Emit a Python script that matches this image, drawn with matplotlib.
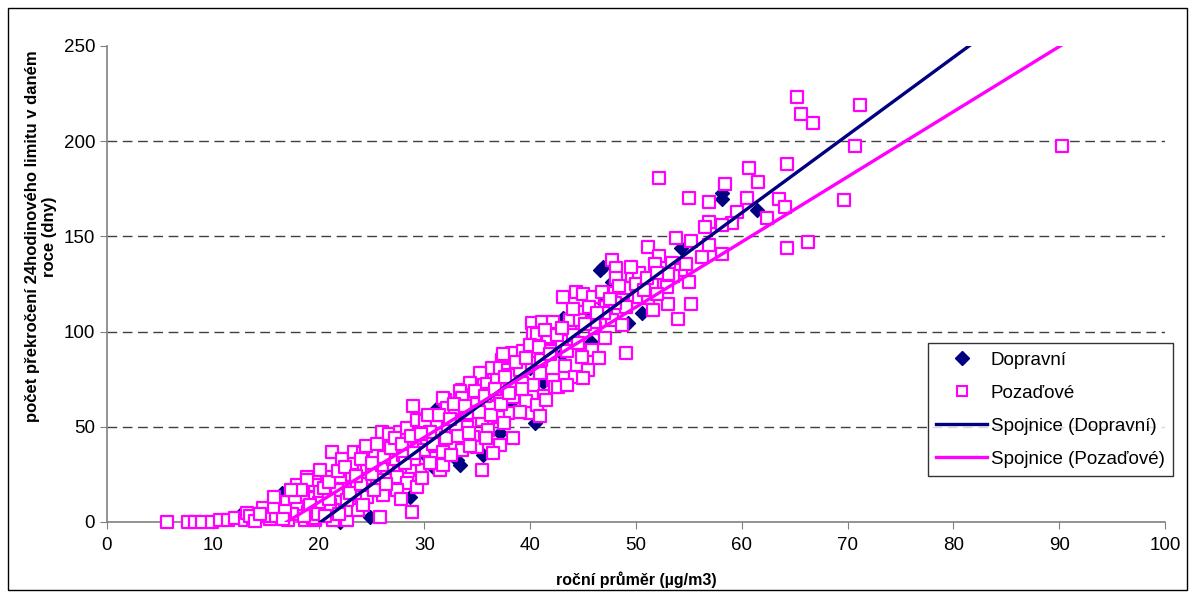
import numpy as np
import matplotlib
matplotlib.use("Agg")
from matplotlib import pyplot as plt
from matplotlib.patches import Rectangle
from matplotlib.lines import Line2D

plt.rcParams['font.family'] = ['Liberation Sans', 'DejaVu Sans']

# Dopravni stations (x = annual mean, y = days over 24h limit)
dopravni = [
    (12.8, 4.7), (16.5, 15.2), (22.0, 0), (24.9, 2.6), (28.6, 13.1), (30.8, 28.9),
    (29.3, 49.9), (31.2, 59.9), (33.1, 32.6), (33.4, 29.9), (35.5, 35.2), (31.5, 44.6),
    (29.3, 55.1), (37.1, 46.7), (40.5, 52.0), (38.1, 61.4), (37.8, 75.6), (39.0, 76.2),
    (40.0, 80.9), (41.2, 73.5), (40.3, 90.3), (41.6, 98.2), (42.8, 98.2), (43.1, 107.1),
    (45.7, 94.5), (45.6, 109.2), (46.6, 117.1), (47.7, 126.1), (49.2, 104.5), (50.6, 109.8),
    (46.6, 132.4), (46.9, 133.9), (54.3, 143.9), (58.1, 172.8), (58.1, 169.6), (61.4, 163.9),
    (30.1, 35.2), (27.0, 40.0), (34.0, 55.0), (36.0, 65.0), (43.0, 88.0), (44.0, 100.0),
]

# Pozadove stations
pozadove = [
    (5.7, 0), (7.7, 0), (8.3, 0), (9.0, 0), (9.9, 0), (10.7, 1), (11.4, 1), (12.1, 2),
    (13.0, 1), (13.8, 2), (13.2, 4.7), (14.7, 7.4), (15.4, 1.6), (16.2, 5.3), (16.1, 10),
    (17.0, 10.5), (18.0, 7.9), (17.1, 1), (18.7, 1), (19.7, 1), (18.9, 23.6), (18.0, 19.4),
    (18.5, 14.2), (19.7, 12.6), (19.7, 19.4), (20.8, 23.6), (21.3, 36.8), (22.7, 24.7),
    (23.2, 31.0), (22.2, 18.4), (23.0, 7.9), (21.4, 6.3), (20.4, 7.9), (22.7, 1),
    (22.2, 33.1), (23.3, 36.8), (24.2, 36.2), (25.3, 36.2), (26.0, 47.3), (26.7, 46.2),
    (27.7, 47.3), (28.4, 49.4), (29.3, 53.6), (30.2, 49.9), (31.3, 48.3), (32.2, 46.7),
    (26.5, 36.8), (27.4, 35.2), (28.4, 38.9), (29.3, 40.4), (30.2, 43.1), (30.8, 34.1),
    (31.5, 27.3), (29.6, 27.3), (28.6, 28.9), (27.7, 28.9), (26.5, 28.4), (24.6, 28.9),
    (22.0, 23.6), (20.1, 27.3), (18.9, 22.1), (20.1, 15.8), (21.7, 16.8), (23.6, 19.4),
    (25.5, 22.1), (27.4, 23.6), (28.4, 20.5), (29.3, 18.4), (22.8, 6.3), (23.7, 6.3),
    (25.8, 2.6), (28.8, 5.3), (19.5, 2.1), (21.4, 1.0), (27.4, 16.8), (26.1, 14.2),
    (24.6, 13.1), (22.7, 11.6), (21.1, 8.9), (28.9, 60.9), (30.1, 53.0), (31.9, 64.1),
    (33.6, 69.3), (34.5, 73.0), (35.4, 78.3), (36.4, 80.9), (37.3, 85.1), (38.3, 88.8),
    (40.2, 104.5), (41.1, 105.0), (40.3, 99.3), (40.5, 90.3), (40.3, 72.0), (40.0, 57.2),
    (38.4, 44.1), (37.1, 40.4), (35.4, 27.3), (36.5, 36.2),
    (42.2, 105.0), (40.6, 98.7), (41.6, 96.1), (37.4, 88.2), (39.3, 89.8), (40.3, 88.8),
    (35.3, 78.3), (37.1, 80.9), (37.9, 79.8), (39.0, 83.5), (40.0, 83.5), (40.9, 78.3),
    (42.2, 74.6), (43.3, 81.9), (34.3, 73.0), (35.9, 72.5), (36.9, 74.6), (38.3, 72.5),
    (39.2, 73.0), (41.3, 66.2), (42.3, 70.9), (33.4, 68.8), (34.6, 66.7), (31.8, 65.1),
    (33.6, 65.1), (38.4, 65.7), (39.6, 63.6), (40.6, 61.4), (32.1, 59.9), (32.9, 59.9),
    (36.2, 60.4), (37.9, 57.2), (40.9, 55.7), (31.2, 52.5), (33.8, 54.6), (35.4, 53.6),
    (37.0, 55.1), (36.0, 48.3), (34.0, 49.9), (32.2, 49.9), (32.7, 41.5), (34.6, 44.6),
    (35.0, 39.4), (33.6, 37.8), (30.5, 47.3),
    (52.2, 180.7), (53.8, 149.2), (51.1, 144.4), (52.2, 139.7), (47.7, 137.6), (48.1, 133.4),
    (48.1, 128.2), (49.6, 129.2), (50.3, 130.8), (51.8, 135.5), (53.4, 136.0), (54.3, 132.4),
    (53.5, 129.2), (56.2, 139.2), (55.0, 126.1), (52.6, 124.5), (48.0, 120.3), (48.8, 120.3),
    (44.3, 120.8), (45.0, 119.7), (45.9, 118.2), (43.1, 118.2), (47.2, 112.9), (49.1, 112.9),
    (50.3, 118.2), (51.1, 117.6), (52.9, 123.4), (53.0, 114.5), (55.2, 114.5), (51.6, 111.3),
    (54.0, 106.6), (44.6, 110.3), (43.8, 106.1), (44.7, 106.1), (47.7, 106.1), (48.7, 103.5),
    (46.1, 101.9), (43.8, 99.8), (47.1, 96.6), (41.7, 97.2), (45.8, 90.3), (49.1, 88.8),
    (44.9, 86.7), (42.6, 70.9), (44.2, 76.2), (45.5, 79.8), (45.0, 75.6),
    (13.5, 3), (15.0, 3), (16.0, 3), (17.5, 4), (19.0, 5), (20.0, 10), (21.0, 12),
    (23.0, 15), (24.0, 20), (25.0, 25), (26.0, 30), (27.0, 33), (28.0, 35), (29.0, 33),
    (30.0, 38), (31.0, 40), (32.0, 44), (33.0, 50), (34.0, 57), (35.0, 62), (36.0, 67),
    (37.0, 70), (38.0, 77), (39.0, 80), (41.0, 85), (42.0, 90), (43.0, 95), (44.0, 98),
    (46.0, 105), (47.0, 110), (48.0, 115), (49.0, 123), (50.0, 125), (51.0, 128),
    (52.0, 120), (53.0, 130),
    (14.0, 0.5), (14.5, 4), (15.8, 8), (16.8, 6), (17.8, 13), (18.3, 17), (19.2, 9),
    (19.9, 4), (20.5, 18), (21.0, 21), (21.8, 27), (22.5, 29), (23.5, 24), (24.0, 33),
    (24.5, 40), (25.0, 31), (25.5, 41), (26.2, 34), (26.8, 39), (27.2, 44), (27.9, 41),
    (28.2, 31), (28.7, 45), (29.0, 36), (29.7, 46), (30.3, 56), (30.8, 41), (31.4, 56),
    (31.8, 37), (32.4, 54), (32.8, 62), (33.2, 45), (33.8, 61), (34.2, 47), (34.8, 69),
    (35.2, 58), (35.7, 66), (36.3, 56), (36.7, 70), (37.2, 62), (37.6, 76), (38.0, 68),
    (38.7, 84), (39.2, 70), (39.6, 86), (40.0, 93), (40.8, 92), (41.4, 101), (41.9, 88),
    (42.5, 98), (43.0, 102), (43.5, 90), (44.0, 112), (44.5, 94), (45.2, 104), (45.6, 113),
    (46.3, 110), (46.8, 121), (47.5, 117), (48.4, 124), (49.5, 134), (50.8, 122),
    (52.0, 131), (16.6, 1.5), (15.8, 13), (17.4, 17), (18.6, 3), (20.6, 3), (21.9, 4),
    (24.2, 9), (25.2, 17), (26.4, 20), (27.8, 12), (29.8, 23), (30.5, 31), (31.8, 30),
    (32.5, 35), (34.3, 40), (35.8, 44), (37.5, 52), (39.0, 58), (41.5, 64), (43.5, 72),
    (46.5, 86),
    (65.2, 223.2), (65.6, 214.3), (66.7, 209.6), (71.2, 219.0), (70.7, 197.5), (90.3, 197.5),
    (60.7, 185.9), (64.3, 188.0), (61.5, 178.6), (58.4, 177.5), (55.0, 170.2), (56.9, 168.1),
    (60.5, 170.2), (63.5, 169.6), (64.1, 165.4), (62.4, 159.7), (59.5, 162.8), (59.1, 157.0),
    (58.1, 156.0), (56.9, 157.6), (56.5, 154.9), (69.7, 169.1), (66.3, 147.1), (64.3, 143.9),
    (56.9, 145.5), (55.2, 147.6), (58.1, 140.8), (54.7, 135.5),
]

# linear trendlines (slope, intercept) as shown in the chart
trend_dopravni = (4.08, -82.4)
trend_pozadove = (3.42, -58.1)

dop_x, dop_y = np.array(dopravni).T
poz_x, poz_y = np.array(pozadove).T

fig = plt.figure(figsize=(11.9, 5.92), dpi=100)
ax = fig.add_axes([107/1190, 1-522/592, (1165-107)/1190, (522-46)/592])

#outer chart border
fig.patches.append(Rectangle((8/1190, 2/592), 1179/1190, 582/592, transform=fig.transFigure,
                             fill=False, edgecolor='black', linewidth=1))

navy = '#000080'
pink = '#FF00FF'

ax.scatter(dop_x, dop_y, marker='D', s=50, color=navy, zorder=3, clip_on=False)
ax.scatter(poz_x, poz_y, marker='s', s=66, facecolor='white', edgecolor=pink,
           linewidth=1.6, zorder=4, clip_on=False)

xs = np.array([0, 100])
ax.plot(xs, trend_dopravni[0]*xs + trend_dopravni[1], color=navy, lw=2.4, zorder=5)
xs2 = np.array([0, poz_x.max()])
ax.plot(xs2, trend_pozadove[0]*xs2 + trend_pozadove[1], color=pink, lw=2.4, zorder=5)

ax.set_xlim(0, 100)
ax.set_ylim(0, 250)
ax.set_xticks(np.arange(0, 101, 10))
ax.set_yticks(np.arange(0, 251, 50))
for yv in [50, 100, 150, 200]:
    ax.axhline(yv, color='#404040', lw=1, dashes=(7, 4), zorder=1)

for s in ['top', 'right']:
    ax.spines[s].set_visible(False)
for s in ['left', 'bottom']:
    ax.spines[s].set_color('#808080')
    ax.spines[s].set_linewidth(1.2)
ax.tick_params(axis='both', direction='out', length=5, color='#808080', labelsize=13.5)
ax.tick_params(axis='x', pad=6)

ax.set_xlabel('roční průměr (µg/m3)', fontsize=11.5, fontweight='bold', labelpad=12)
ax.set_ylabel('počet překročení 24hodinového limitu v daném\nroce (dny)', fontsize=12,
              fontweight='bold', linespacing=1.15)
ax.yaxis.set_label_coords(-0.047, 0.60)

handles = [
    Line2D([], [], marker='D', color=navy, ls='none', markersize=7),
    Line2D([], [], marker='s', markerfacecolor='white', markeredgecolor=pink, ls='none',
           markersize=7, markeredgewidth=1.5),
    Line2D([], [], color=navy, lw=2.4),
    Line2D([], [], color=pink, lw=2.4),
]
labels = ['Dopravní', 'Pozaďové', 'Spojnice (Dopravní)', 'Spojnice (Pozaďové)']
leg = fig.legend(handles, labels, loc='upper left', bbox_to_anchor=(928/1190, 1-343/592),
                 fontsize=13.5, frameon=True, fancybox=False, borderaxespad=0,
                 handlelength=2.7, labelspacing=0.85, handletextpad=0.2, borderpad=0.45)
leg.get_frame().set_edgecolor('black')
leg.get_frame().set_linewidth(1)

plt.savefig("out.png", dpi=100)
